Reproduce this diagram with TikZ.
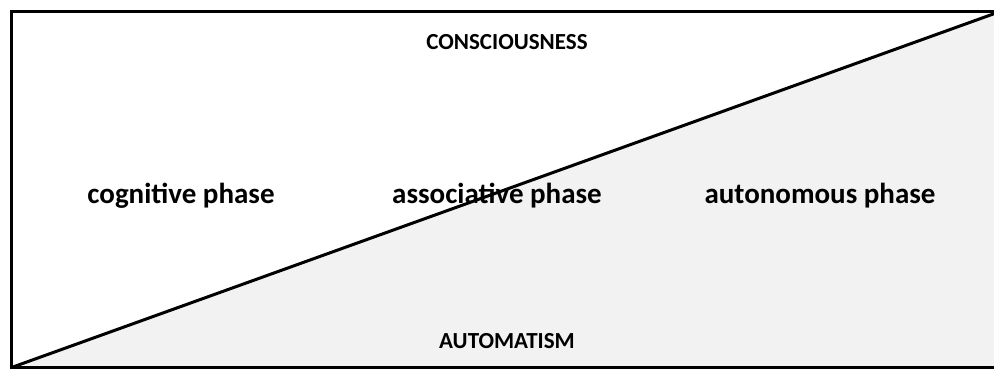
\documentclass[tikz,border=0pt]{standalone}
\usepackage{fontspec}
\setmainfont{Carlito}
\usetikzlibrary{positioning}
\definecolor{autogray}{RGB}{242,242,242}

\begin{document}
\begin{tikzpicture}[x=1pt, y=-1pt, line width=3pt, every node/.style={align=center, font=\bfseries},
  caption/.style={font=\fontsize{23}{27}\selectfont\bfseries},
  phase/.style={font=\fontsize{29}{34}\selectfont\bfseries}]
\useasboundingbox (0,0) rectangle (994,370);
\coordinate (bl) at (11.5,367.5);
\coordinate (tr) at (996,13);
\coordinate (br) at (996,367.5);
\coordinate (tl) at (11.5,11.5);
\fill[autogray] (bl) -- (tr) -- (br) -- cycle;
\draw (996,11.5) -- (tl) -- (bl) -- (br);
\draw (bl) -- (tr);
\node[caption] (con) at (507,42) {CONSCIOUSNESS};
\node[caption] (aut) at (507,341) {AUTOMATISM};
\node[phase] (cog) at (181,196) {cognitive phase};
\node[phase] (ass) at (497,196) {associative phase};
\node[phase] (auto) at (820,196) {autonomous phase};
\end{tikzpicture}
\end{document}
